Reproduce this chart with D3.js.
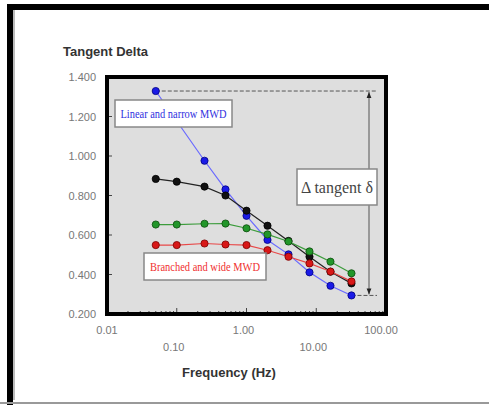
<!DOCTYPE html>
<html>
<head>
<meta charset="utf-8">
<script src="https://cdn.jsdelivr.net/npm/d3@7"></script>
<style>
  body { margin: 0; background: #fff; }
  svg { display: block; }
  .lbl { font-family: "Liberation Sans Narrow", "Arial Narrow", "Liberation Sans", Arial, sans-serif; }
  .serif { font-family: "Liberation Serif", "Times New Roman", serif; }
</style>
</head>
<body>
<svg width="489" height="405"></svg>
<script>
// frequencies (Hz) and tan delta for the four resins (null = no reading)
const freq = [0.05, 0.1, 0.25, 0.5, 1, 2, 4, 8, 16, 32];
const blueVals  = [1.329, null, 0.976, 0.831, 0.697, 0.575, 0.502, 0.411, 0.343, 0.294];
const blackVals = [0.884, 0.870, 0.845, 0.800, 0.723, 0.647, 0.570, 0.490, 0.414, 0.355];
const greenVals = [0.653, 0.653, 0.657, 0.658, 0.634, 0.603, 0.567, 0.517, 0.465, 0.406];
const redVals   = [0.549, 0.549, 0.557, 0.552, 0.549, 0.523, 0.490, 0.456, 0.415, 0.365];

const yTicks = [0.2, 0.4, 0.6, 0.8, 1.0, 1.2, 1.4];
const xTicks = [0.01, 0.1, 1, 10, 100];
const xTickLabels = ["0.01", "0.10", "1.00", "10.00", "100.00"];

const svg = d3.select("svg");

// outer frame of the figure
svg.append("rect").attr("x", 10).attr("y", 7).attr("width", 500).attr("height", 420)
  .attr("fill", "none").attr("stroke", "#000").attr("stroke-width", 6);
svg.append("line").attr("x1", 14).attr("x2", 14).attr("y1", 10).attr("y2", 400)
  .attr("stroke", "#bbb").attr("stroke-width", 2);
svg.append("line").attr("x1", 0).attr("x2", 489).attr("y1", 403).attr("y2", 403)
  .attr("stroke", "#999").attr("stroke-width", 2);

const x = d3.scaleLog().domain([0.01, 100]).range([107, 386]);
const y = d3.scaleLinear().domain([0.2, 1.4]).range([314, 77]);

// plot area
svg.append("rect")
  .attr("x", x(0.01)).attr("y", y(1.4))
  .attr("width", x(100) - x(0.01)).attr("height", y(0.2) - y(1.4))
  .attr("fill", "#dedede");

// inward ticks
const minor = [];
for (let d = 0.01; d < 100; d *= 10) for (let k = 2; k < 10; k++) minor.push(d * k);
svg.append("g").selectAll("line").data(minor).join("line")
  .attr("x1", d => x(d)).attr("x2", d => x(d))
  .attr("y1", y(0.2)).attr("y2", y(0.2) - 3)
  .attr("stroke", "#444").attr("stroke-width", 1);
svg.append("g").selectAll("line").data(xTicks).join("line")
  .attr("x1", d => x(d)).attr("x2", d => x(d))
  .attr("y1", y(0.2)).attr("y2", y(0.2) - 6)
  .attr("stroke", "#444").attr("stroke-width", 1);
svg.append("g").selectAll("line").data(yTicks).join("line")
  .attr("x1", x(0.01)).attr("x2", x(0.01) + 5)
  .attr("y1", d => y(d)).attr("y2", d => y(d))
  .attr("stroke", "#444").attr("stroke-width", 1);

// tick labels
svg.append("g").selectAll("text").data(yTicks).join("text")
  .attr("class", "lbl")
  .attr("x", 96).attr("y", d => y(d) + 4)
  .attr("text-anchor", "end").attr("font-size", 11).attr("fill", "#777")
  .text(d => d.toFixed(3));
svg.append("g").selectAll("text").data(xTicks).join("text")
  .attr("class", "lbl")
  .attr("x", (d, i) => x(d) - (i === 4 ? 5 : i === 0 ? 0 : 3))
  .attr("y", (d, i) => i % 2 ? 351 : 334)
  .attr("text-anchor", "middle").attr("font-size", 11).attr("fill", "#777")
  .text((d, i) => xTickLabels[i]);

// titles
svg.append("text").attr("class", "lbl")
  .attr("x", 63).attr("y", 56).attr("font-size", 13).attr("font-weight", "bold").attr("fill", "#333")
  .text("Tangent Delta");
svg.append("text").attr("class", "lbl")
  .attr("x", 229).attr("y", 377).attr("text-anchor", "middle")
  .attr("font-size", 13).attr("font-weight", "bold").attr("fill", "#333")
  .text("Frequency (Hz)");

// delta annotation: dashed guides and double arrow
const yTop = y(d3.max(blueVals)), yBot = y(d3.min(blueVals.filter(v => v != null)));
const xArrow = 369;
svg.append("line").attr("x1", x(freq[0])).attr("x2", 377).attr("y1", yTop).attr("y2", yTop)
  .attr("stroke", "#555").attr("stroke-width", 1).attr("stroke-dasharray", "4,2");
svg.append("line").attr("x1", x(freq[freq.length - 1])).attr("x2", 377).attr("y1", yBot).attr("y2", yBot)
  .attr("stroke", "#555").attr("stroke-width", 1).attr("stroke-dasharray", "4,2");
svg.append("defs").append("marker")
  .attr("id", "ah").attr("viewBox", "0 0 10 10").attr("refX", 10).attr("refY", 5)
  .attr("markerWidth", 6).attr("markerHeight", 8).attr("orient", "auto-start-reverse")
  .append("path").attr("d", "M0,1L10,5L0,9z").attr("fill", "#222");
svg.append("line").attr("x1", xArrow).attr("x2", xArrow).attr("y1", yTop + 1).attr("y2", yBot - 1)
  .attr("stroke", "#555").attr("stroke-width", 1)
  .attr("marker-start", "url(#ah)").attr("marker-end", "url(#ah)");

// series
const series = [
  {vals: blueVals, line: "#6a6aff", dot: "#1a1ae6", edge: "#000080"},
  {vals: blackVals, line: "#222", dot: "#111", edge: "#000"},
  {vals: greenVals, line: "#3c9c3c", dot: "#22962a", edge: "#0d4d0d"},
  {vals: redVals, line: "#e84848", dot: "#d81818", edge: "#7a0000"}
];
series.forEach(s => {
  const pts = freq.map((f, i) => [f, s.vals[i]]).filter(p => p[1] != null);
  s.pts = pts;
  svg.append("path")
    .attr("d", d3.line().x(p => x(p[0])).y(p => y(p[1]))(pts))
    .attr("fill", "none").attr("stroke", s.line).attr("stroke-width", 1.2);
});
series.forEach(s => {
  svg.append("g").selectAll("circle").data(s.pts).join("circle")
    .attr("cx", p => x(p[0])).attr("cy", p => y(p[1])).attr("r", 3.6)
    .attr("fill", s.dot).attr("stroke", s.edge).attr("stroke-width", 0.8);
});

// labelled boxes
function labelBox(x0, y0, w, h, txt, color, size, len) {
  svg.append("rect").attr("x", x0).attr("y", y0).attr("width", w).attr("height", h)
    .attr("fill", "#fff").attr("stroke", "#888").attr("stroke-width", 1.5);
  svg.append("text").attr("class", "serif")
    .attr("x", x0 + w / 2).attr("y", y0 + h / 2 + size * 0.35)
    .attr("text-anchor", "middle").attr("font-size", size).attr("fill", color)
    .attr("textLength", len).attr("lengthAdjust", "spacingAndGlyphs")
    .text(txt);
}
labelBox(115, 100, 117, 27, "Linear and narrow MWD", "#3030e0", 12, 106);
labelBox(144, 253, 122, 27, "Branched and wide MWD", "#f03030", 12, 110);
labelBox(297, 169, 80, 36, "\u0394 tangent \u03b4", "#444", 17, 72);

// thick border of the plot area on top
svg.append("rect")
  .attr("x", x(0.01)).attr("y", y(1.4))
  .attr("width", x(100) - x(0.01)).attr("height", y(0.2) - y(1.4))
  .attr("fill", "none").attr("stroke", "#000").attr("stroke-width", 4);
</script>
</body>
</html>
